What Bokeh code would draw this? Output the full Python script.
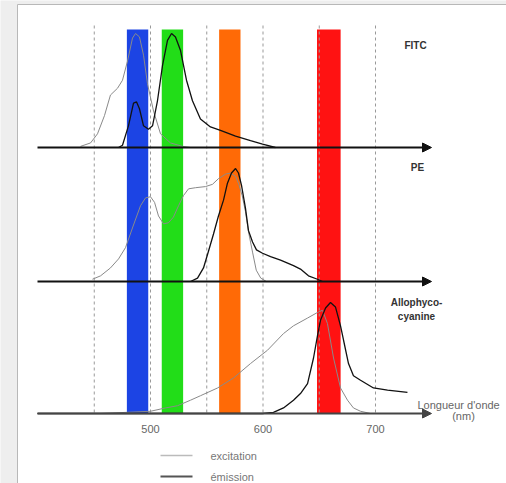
from bokeh.plotting import figure
from bokeh.models import Range1d, Arrow, NormalHead
from bokeh.core.properties import value
from bokeh.embed import file_html
from bokeh.resources import INLINE

# ---------------- data ----------------
# FITC
fitc_ex_nm = [437.8, 446.7, 452.9, 459.1, 464.4, 470.7, 475.1, 479.6, 484.0, 486.7, 490.2, 493.8, 497.3, 502.7, 508.9, 517.8, 528.4, 535.6]
fitc_ex_i = [1, 4, 12, 28, 46, 52, 59, 76, 96, 100, 97, 81, 56, 32, 12, 4, 1, 0]
fitc_em_nm = [471.6, 475.1, 480.4, 484.9, 487.6, 490.2, 493.8, 498.2, 501.8, 506.2, 510.7, 515.1, 518.7, 522.2, 526.7, 532.0, 537.3, 544.4, 553.3, 562.2, 575.6, 588.9, 599.6, 611.0]
fitc_em_i = [0, 2, 19, 39, 40, 34, 19, 16, 19, 41, 72, 94, 100, 97, 85, 59, 41, 25, 18, 15, 10, 6, 3, 0]
# PE
pe_ex_nm = [448.4, 455.6, 464.4, 471.6, 477.8, 484.9, 491.1, 495.6, 500.0, 503.6, 507.1, 511.6, 516.0, 520.4, 524.9, 529.3, 533.8, 540.0, 548.9, 555.1, 560.4, 566.7, 571.1, 575.6, 578.5, 581.5, 584.4, 587.1, 590.7, 594.0, 598.0, 603.0]
pe_ex_i = [2, 5, 12, 20, 30, 50, 67, 74, 75, 70, 58, 51, 52, 57, 67, 76, 82, 83, 84, 86, 91, 95, 96, 93, 86, 76, 62, 44, 26, 10, 3, 0]
pe_em_nm = [535.6, 541.8, 547.1, 551.6, 556.0, 560.4, 564.9, 568.4, 572.0, 575.6, 578.2, 580.9, 584.4, 587.1, 590.7, 594.2, 599.6, 606.7, 615.6, 627.1, 633.3, 640.4, 648.4, 652.9]
pe_em_i = [0, 3, 12, 27, 42, 58, 72, 87, 96, 100, 96, 85, 65, 45, 35, 28, 25, 22, 19, 14, 11, 5, 2, 0]
# Allophycocyanine
apc_ex_nm = [399.6, 455.6, 500.0, 513.3, 524.0, 535.6, 544.4, 559.6, 573.8, 588.9, 604.0, 618.2, 627.1, 639.6, 648.4, 652.9, 657.3, 662.7, 668.9, 675.1, 680.4, 686.7, 695.6]
apc_ex_i = [0, 0, 2, 5, 7, 12, 16, 23, 32, 45, 57, 72, 79, 86, 91, 93, 81, 50, 23, 12, 5, 2, 0]
apc_em_nm = [399.6, 599.6, 609.3, 618.2, 627.1, 633.3, 639.6, 644.9, 648.4, 651.1, 655.6, 660.0, 664.4, 668.9, 671.6, 676.0, 680.4, 686.7, 698.2, 710.7, 728.4]
apc_em_i = [0, 0, 1, 5, 12, 18, 27, 50, 70, 84, 95, 100, 96, 79, 66, 45, 34, 30, 23, 21, 19]

# laser / filter bands (nm)
band_left = [479, 510, 561, 648]
band_right = [498, 529, 580, 669]
band_colors = ["#1c44e4", "#22dd18", "#ff6a06", "#ff1212"]

grid_nm = [450, 500, 550, 600, 650, 700]
tick_nm = [500, 600, 700]
tick_labels = ["500", "600", "700"]

panel_names = ["FITC", "PE", "Allophyco-\ncyanine"]

# ---------------- layout helpers ----------------
W, H = 506, 483
PX500, PXNM = 150.0, 1.125  # pixel of 500 nm, pixels per nm


def nm(px):
    return 500 + (px - PX500) / PXNM


baselines = [147, 281, 413]
heights = [114, 113, 111]
FONT = "Liberation Sans"

p = figure(width=W, height=H, output_backend="svg", toolbar_location=None,
           x_range=Range1d(nm(0), nm(W)), y_range=Range1d(H, 0),
           min_border=0)
p.axis.visible = False
p.grid.visible = False
p.outline_line_color = None
p.background_fill_color = "#eeeeee"
p.border_fill_color = "#eeeeee"

# white page area with border
p.quad(left=[nm(17)], right=[nm(W + 5)], top=[4], bottom=[H + 5],
       fill_color="white", line_color="#b8b8b8", line_width=1)

# bands
p.quad(left=band_left, right=band_right, top=[29] * 4, bottom=[baselines[2]] * 4,
       fill_color=band_colors, line_color=None)

# dashed verticals
p.segment(x0=grid_nm, x1=grid_nm, y0=[25] * len(grid_nm), y1=[baselines[2]] * len(grid_nm),
          line_color="#999999", line_dash="3 3", line_width=1)

# axes with arrows
for i, b in enumerate(baselines):
    col = "#111111" if i < 2 else "#444444"
    p.add_layout(Arrow(end=NormalHead(size=9, fill_color=col, line_color=col),
                       x_start=nm(37), y_start=b, x_end=nm(431), y_end=b,
                       line_color=col, line_width=1.8))


def y_of(ints, k):
    return [baselines[k] - v / 100.0 * heights[k] for v in ints]


EXC = "#8a8a8a"
EMI = "#111111"
for k, (exn, exi, emn, emi) in enumerate([
        (fitc_ex_nm, fitc_ex_i, fitc_em_nm, fitc_em_i),
        (pe_ex_nm, pe_ex_i, pe_em_nm, pe_em_i),
        (apc_ex_nm, apc_ex_i, apc_em_nm, apc_em_i)]):
    p.line(exn, y_of(exi, k), line_color=EXC, line_width=1)
    p.line(emn, y_of(emi, k), line_color=EMI, line_width=1.3)

# tick labels
p.text(x=tick_nm, y=[428] * 3, text=tick_labels, text_font=value(FONT),
       text_font_size="11px", text_color="#666666", text_align="center",
       text_baseline="middle")

# panel labels
p.text(x=[nm(415), nm(417), nm(416)], y=[45, 167, 309], text=panel_names,
       text_font=value(FONT), text_font_size="10px", text_font_style="bold",
       text_color="#333333", text_align="center", text_baseline="middle",
       text_line_height=1.3)

# axis title
p.text(x=[nm(417)], y=[404], text=["Longueur d'onde"], text_font=value(FONT),
       text_font_size="11px", text_color="#666666", text_align="left",
       text_baseline="middle")
p.text(x=[nm(463)], y=[415], text=["(nm)"], text_font=value(FONT),
       text_font_size="11px", text_color="#666666", text_align="center",
       text_baseline="middle")

# legend
p.line([nm(160), nm(192)], [455, 455], line_color="#bbbbbb", line_width=1.5)
p.line([nm(160), nm(192)], [476, 476], line_color="#555555", line_width=2)
p.text(x=[nm(210), nm(210)], y=[455, 476], text=["excitation", "émission"],
       text_font=value(FONT), text_font_size="11px", text_color="#777777",
       text_align="left", text_baseline="middle")

open("out.html", "w").write(file_html(p, INLINE))
